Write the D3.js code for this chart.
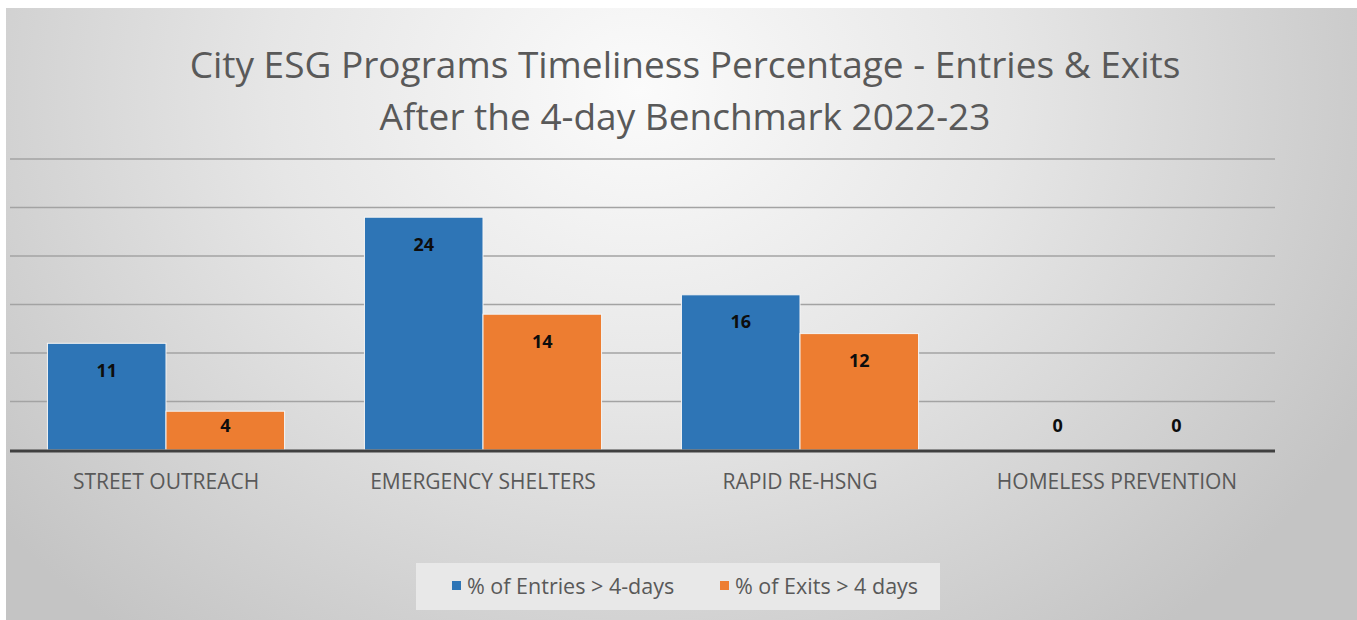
<!DOCTYPE html>
<html>
<head>
<meta charset="utf-8">
<script src="https://cdn.jsdelivr.net/npm/d3@7"></script>
<style>
  html, body { margin: 0; padding: 0; background: #ffffff; }
  svg { display: block; }
</style>
</head>
<body>
<svg id="chart" width="1357" height="620"></svg>
<script>
// Program categories and the two timeliness series (percent)
const categories = ["STREET OUTREACH", "EMERGENCY SHELTERS", "RAPID RE-HSNG", "HOMELESS PREVENTION"];
const seriesNames = ["% of Entries > 4-days", "% of Exits > 4 days"];
const entriesPct = [11, 24, 16, 0];
const exitsPct = [4, 14, 12, 0];
const yTicks = [0, 5, 10, 15, 20, 25, 30];
const titleLines = ["City ESG Programs Timeliness Percentage - Entries & Exits", "After the 4-day Benchmark 2022-23"];

const colors = ["#2e75b6", "#ed7d31"];
const W = 1357, H = 620;
const svg = d3.select("#chart");

// background panel with soft radial shading
const defs = svg.append("defs");
const rg = defs.append("radialGradient")
  .attr("id", "bg").attr("gradientUnits", "userSpaceOnUse")
  .attr("cx", 640).attr("cy", 90).attr("r", 820)
  .attr("gradientTransform", "translate(640,90) scale(1,0.85) translate(-640,-90)");
rg.append("stop").attr("offset", "0%").attr("stop-color", "#fbfbfb");
rg.append("stop").attr("offset", "45%").attr("stop-color", "#e6e6e6");
rg.append("stop").attr("offset", "100%").attr("stop-color", "#c4c4c4");
svg.append("rect").attr("x", 6).attr("y", 8).attr("width", W - 6).attr("height", H - 8)
  .attr("fill", "url(#bg)");

// scales
const x0 = d3.scaleBand().domain(categories).range([7.5, 1275.5])
  .paddingInner(0.252).paddingOuter(0.126);
const x1 = d3.scaleBand().domain([0, 1]).range([0, x0.bandwidth()]).padding(0);
const y = d3.scaleLinear().domain([0, 30]).range([450, 159]);

// gridlines
svg.append("g").selectAll("line").data(yTicks.slice(1)).join("line")
  .attr("x1", 10).attr("x2", 1275)
  .attr("y1", d => y(d)).attr("y2", d => y(d))
  .attr("stroke", "#a3a3a3").attr("stroke-width", 1.5);

// title
svg.append("g").selectAll("text").data(titleLines).join("text")
  .attr("x", 685).attr("y", (d, i) => 78 + i * 52)
  .attr("text-anchor", "middle")
  .attr("font-family", "Open Sans, sans-serif")
  .attr("font-size", 37)
  .attr("fill", "#595959")
  .text(d => d);

// bars
const rows = categories.map((c, i) => ({ cat: c, vals: [entriesPct[i], exitsPct[i]] }));
const groups = svg.append("g").selectAll("g").data(rows).join("g")
  .attr("transform", d => `translate(${x0(d.cat)},0)`);

groups.selectAll("rect").data(d => d.vals.map((v, k) => ({ v, k }))).join("rect")
  .attr("x", d => x1(d.k))
  .attr("y", d => y(d.v))
  .attr("width", x1.bandwidth())
  .attr("height", d => y(0) - y(d.v))
  .attr("fill", d => colors[d.k])
  .attr("stroke", d => d.v > 0 ? "#f4f4f4" : "none")
  .attr("stroke-width", 1);

// value labels inside the bar ends
groups.selectAll("text").data(d => d.vals.map((v, k) => ({ v, k }))).join("text")
  .attr("x", d => x1(d.k) + x1.bandwidth() / 2)
  .attr("y", d => Math.min(y(d.v) + 27, y(0) - 25) + 6.5)
  .attr("text-anchor", "middle")
  .attr("font-family", "Open Sans, sans-serif")
  .attr("font-weight", "bold")
  .attr("font-size", 18)
  .attr("fill", "#0d0d0d")
  .text(d => d.v);

// baseline
svg.append("line").attr("x1", 10).attr("x2", 1275)
  .attr("y1", y(0) + 1).attr("y2", y(0) + 1)
  .attr("stroke", "#404040").attr("stroke-width", 3);

// category axis labels
const xAxis = d3.axisBottom(x0).tickSize(0).tickPadding(0);
const ax = svg.append("g").attr("transform", `translate(0,${y(0)})`).call(xAxis);
ax.select(".domain").remove();
ax.selectAll("text")
  .attr("dy", 0).attr("y", 39)
  .attr("font-family", "Open Sans, sans-serif")
  .attr("font-size", 21)
  .attr("fill", "#595959");

// legend
const legend = svg.append("g");
legend.append("rect").attr("x", 416).attr("y", 563).attr("width", 524).attr("height", 47)
  .attr("fill", "#e8e8e8");
const legendX = [452, 720];
seriesNames.forEach((name, i) => {
  legend.append("rect").attr("x", legendX[i]).attr("y", 581).attr("width", 9).attr("height", 9)
    .attr("fill", colors[i]);
  legend.append("text").attr("x", legendX[i] + 15).attr("y", 594)
    .attr("font-family", "Open Sans, sans-serif").attr("font-size", 21.5)
    .attr("fill", "#595959").text(name);
});
</script>
</body>
</html>
